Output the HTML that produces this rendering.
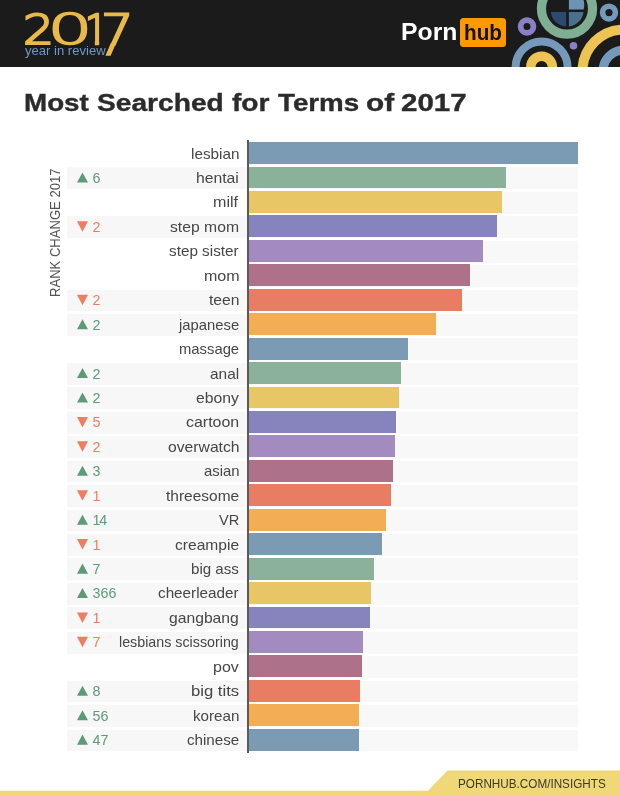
<!DOCTYPE html>
<html><head><meta charset="utf-8"><title>Most Searched for Terms of 2017</title>
<style>
html,body{margin:0;padding:0;background:#fff}
body{width:620px;height:796px;position:relative;overflow:hidden;font-family:"Liberation Sans",sans-serif;color:#3a3a3a}
.hdr{position:absolute;left:0;top:0;width:620px;height:67px;background:#1b1b1b;overflow:hidden}
.t{position:absolute;white-space:nowrap;transform-origin:0 0}
.y17{position:absolute;left:0;top:0}
.yir{left:24.61px;top:30.80px;font-size:13px;line-height:40px;color:#6f97c3;transform:scaleX(1.0053)}
.porn{left:401.14px;top:11.80px;font-size:23.2px;line-height:40px;font-weight:bold;color:#fff;transform:scaleX(1.0675)}
.hubbox{position:absolute;left:460.1px;top:18.1px;width:45.8px;height:28.6px;border-radius:3.5px;background:#ff9900}
.hub{left:463.75px;top:12.90px;font-size:22.2px;line-height:40px;font-weight:bold;color:#111;transform:scaleX(0.9316)}
.deco{position:absolute;left:500px;top:0;width:120px;height:67px}
h1{position:absolute;left:0;top:0;margin:0;-webkit-text-stroke:0.35px #2b2b2b;font-size:24px;line-height:40px;font-weight:bold;color:#2b2b2b}
h1 span{position:absolute;top:83.40px;white-space:nowrap;transform-origin:0 0}
.ylab{left:35.00px;top:296.57px;font-size:15px;line-height:40px;color:#555;transform:rotate(-90deg) scaleX(0.8706)}
.row{position:absolute;left:0;width:620px;height:21.9px}
.row.chg::before{content:"";position:absolute;left:67px;top:0.8px;width:182px;height:21.8px;background:#f7f7f7}
.track{position:absolute;left:249px;top:0.8px;width:329.2px;height:21.8px;background:#f8f8f8}
.bar{position:absolute;left:249.3px;top:0;height:21.9px}
.lbl{position:absolute;top:-8.60px;line-height:40px;font-size:15px;color:#464646;white-space:nowrap;transform-origin:0 0}
.num{position:absolute;left:92.6px;top:-8.60px;line-height:40px;font-size:14.3px;white-space:nowrap}
.num.up{color:#5d9a78}.num.dn{color:#ee7d62}
.tri{position:absolute;left:77px;width:0;height:0;border-left:5.5px solid transparent;border-right:5.5px solid transparent}
.tri.up{top:5.9px;border-bottom:9.4px solid #5d9a78}
.tri.dn{top:6.3px;border-top:10px solid #ee7d62}
.tris{position:absolute;left:0;top:0}.tris .u{fill:#5d9a78}.tris .d{fill:#ee7d62}
.axis{position:absolute;left:247px;top:140px;width:2.3px;height:612.5px;background:#5a5a5a}
.foot{position:absolute;left:0;top:770px;width:620px;height:26px}
.ft{left:458.33px;top:764.30px;font-size:13.5px;line-height:40px;color:#3a3a2e;transform:scaleX(0.8675)}
</style></head><body>
<div class="hdr">
<svg class="y17" width="140" height="67" viewBox="0 0 140 67"><defs><clipPath id="c1"><rect x="80" y="0" width="30" height="39.94"/><rect x="94.88" y="0" width="4.27" height="67"/></clipPath></defs><text font-family="'DejaVu Sans Light','DejaVu Sans',sans-serif" font-weight="200" font-size="42" fill="#e9b94b" stroke="#e9b94b" stroke-width="2.4" stroke-linejoin="miter" vector-effect="non-scaling-stroke" transform="translate(23.11,43.80) scale(1.1629,0.9881)">2</text><text font-family="'DejaVu Sans Light','DejaVu Sans',sans-serif" font-weight="200" font-size="42" fill="#e9b94b" stroke="#e9b94b" stroke-width="2.4" stroke-linejoin="miter" vector-effect="non-scaling-stroke" transform="translate(47.74,44.08) scale(1.6673,1.0004)">0</text><g clip-path="url(#c1)"><text font-family="'DejaVu Sans Light','DejaVu Sans',sans-serif" font-weight="200" font-size="42" fill="#e9b94b" stroke="#e9b94b" stroke-width="2.4" stroke-linejoin="miter" vector-effect="non-scaling-stroke" transform="translate(84.92,43.80) scale(0.8622,0.9896)">1</text></g><g transform="translate(100.88,45.00) skewX(-0.045) scale(1.2190,1.0288)"><text font-family="'DejaVu Sans Light','DejaVu Sans',sans-serif" font-weight="200" font-size="42" fill="#e9b94b" stroke="#e9b94b" stroke-width="2.4" stroke-linejoin="miter" vector-effect="non-scaling-stroke">7</text><polygon points="8.777,-0.5 10.951,-0.5 7.357,9.331 5.186,9.331" fill="#e9b94b" stroke="#e9b94b" stroke-width="2.4" vector-effect="non-scaling-stroke"/></g></svg>
<div class="t yir">year in review</div>
<div class="t porn">Porn</div><div class="hubbox"></div><div class="t hub">hub</div>
<svg class="deco" viewBox="500 0 120 67">
<circle cx="567" cy="8.6" r="25.55" fill="none" stroke="#7fae93" stroke-width="9.2"/>
<path d="M568.85 9.4 V-10 H575 A16.4 16.4 0 0 1 583.58 9.4 Z" fill="#6f93b3"/>
<path d="M568.85 11.9 H583.5 A16.4 16.4 0 0 1 568.85 26.52 Z" fill="#4b6f8f"/>
<path d="M566.1 11.9 H550.9 A16.4 16.4 0 0 0 566.1 26.56 Z" fill="#2c4a70"/>
<circle cx="527" cy="26.5" r="6.4" fill="none" stroke="#8a80c6" stroke-width="5.8"/>
<circle cx="609" cy="12.6" r="6.4" fill="none" stroke="#7499bb" stroke-width="5.6"/>
<circle cx="573.5" cy="45.7" r="3.8" fill="#8a80c6"/>
<circle cx="541.6" cy="67.4" r="26" fill="none" stroke="#7499bb" stroke-width="8"/>
<circle cx="541.6" cy="67" r="10.8" fill="none" stroke="#edc453" stroke-width="9.5"/>
<circle cx="624" cy="71" r="41.5" fill="none" stroke="#edc453" stroke-width="10"/>
<circle cx="624" cy="71" r="21" fill="none" stroke="#7499bb" stroke-width="9"/>
</svg>
</div>
<h1><span style="left:23.63px;transform:scaleX(1.1577)">Most</span> <span style="left:96.87px;transform:scaleX(1.1728)">Searched</span> <span style="left:232.01px;transform:scaleX(1.1718)">for</span> <span style="left:277.68px;transform:scaleX(1.1550)">Terms</span> <span style="left:366.24px;transform:scaleX(1.2419)">of</span> <span style="left:401.37px;transform:scaleX(1.2281)">2017</span></h1>
<div class="t ylab">RANK CHANGE 2017</div>
<div class="row" style="top:142.15px">
<span class="lbl" style="left:190.58px;transform:scaleX(1.0193)">lesbian</span><span class="track"></span><span class="bar" style="width:328.4px;background:#7b9ab4"></span></div>
<div class="row chg" style="top:166.59px">
<span class="num up">6</span>
<span class="lbl" style="left:196.25px;transform:scaleX(1.0487)">hentai</span><span class="track"></span><span class="bar" style="width:256.6px;background:#8bb19a"></span></div>
<div class="row" style="top:191.03px">
<span class="lbl" style="left:213.13px;transform:scaleX(1.0707)">milf</span><span class="track"></span><span class="bar" style="width:252.3px;background:#e8c565"></span></div>
<div class="row chg" style="top:215.47px">
<span class="num dn">2</span>
<span class="lbl" style="left:170.03px;transform:scaleX(1.0488)">step mom</span><span class="track"></span><span class="bar" style="width:247.8px;background:#8783bc"></span></div>
<div class="row" style="top:239.91px">
<span class="lbl" style="left:168.95px;transform:scaleX(1.0185)">step sister</span><span class="track"></span><span class="bar" style="width:233.7px;background:#a48bbf"></span></div>
<div class="row" style="top:264.35px">
<span class="lbl" style="left:203.73px;transform:scaleX(1.0702)">mom</span><span class="track"></span><span class="bar" style="width:220.4px;background:#ad718a"></span></div>
<div class="row chg" style="top:288.79px">
<span class="num dn">2</span>
<span class="lbl" style="left:208.76px;transform:scaleX(1.0476)">teen</span><span class="track"></span><span class="bar" style="width:212.4px;background:#e97d64"></span></div>
<div class="row chg" style="top:313.23px">
<span class="num up">2</span>
<span class="lbl" style="left:178.91px;transform:scaleX(0.9875)">japanese</span><span class="track"></span><span class="bar" style="width:187.1px;background:#f2ad55"></span></div>
<div class="row" style="top:337.67px">
<span class="lbl" style="left:178.91px;transform:scaleX(0.9875)">massage</span><span class="track"></span><span class="bar" style="width:158.8px;background:#7b9ab4"></span></div>
<div class="row chg" style="top:362.11px">
<span class="num up">2</span>
<span class="lbl" style="left:210.12px;transform:scaleX(1.0273)">anal</span><span class="track"></span><span class="bar" style="width:151.3px;background:#8bb19a"></span></div>
<div class="row chg" style="top:386.55px">
<span class="num up">2</span>
<span class="lbl" style="left:196.02px;transform:scaleX(1.0489)">ebony</span><span class="track"></span><span class="bar" style="width:149.7px;background:#e8c565"></span></div>
<div class="row chg" style="top:410.99px">
<span class="num dn">5</span>
<span class="lbl" style="left:186.01px;transform:scaleX(1.0630)">cartoon</span><span class="track"></span><span class="bar" style="width:147.0px;background:#8783bc"></span></div>
<div class="row chg" style="top:435.43px">
<span class="num dn">2</span>
<span class="lbl" style="left:167.73px;transform:scaleX(1.0466)">overwatch</span><span class="track"></span><span class="bar" style="width:145.7px;background:#a48bbf"></span></div>
<div class="row chg" style="top:459.87px">
<span class="num up">3</span>
<span class="lbl" style="left:203.55px;transform:scaleX(0.9899)">asian</span><span class="track"></span><span class="bar" style="width:143.5px;background:#ad718a"></span></div>
<div class="row chg" style="top:484.31px">
<span class="num dn">1</span>
<span class="lbl" style="left:165.87px;transform:scaleX(1.0326)">threesome</span><span class="track"></span><span class="bar" style="width:141.3px;background:#e97d64"></span></div>
<div class="row chg" style="top:508.75px">
<span class="num up" style="letter-spacing:-1.4px">14</span>
<span class="lbl" style="left:219.24px;transform:scaleX(0.9757)">VR</span><span class="track"></span><span class="bar" style="width:136.4px;background:#f2ad55"></span></div>
<div class="row chg" style="top:533.19px">
<span class="num dn">1</span>
<span class="lbl" style="left:175.33px;transform:scaleX(1.0388)">creampie</span><span class="track"></span><span class="bar" style="width:132.6px;background:#7b9ab4"></span></div>
<div class="row chg" style="top:557.63px">
<span class="num up">7</span>
<span class="lbl" style="left:191.19px;transform:scaleX(1.0063)">big ass</span><span class="track"></span><span class="bar" style="width:125.1px;background:#8bb19a"></span></div>
<div class="row chg" style="top:582.07px">
<span class="num up">366</span>
<span class="lbl" style="left:157.85px;transform:scaleX(1.0173)">cheerleader</span><span class="track"></span><span class="bar" style="width:121.6px;background:#e8c565"></span></div>
<div class="row chg" style="top:606.51px">
<span class="num dn">1</span>
<span class="lbl" style="left:169.22px;transform:scaleX(1.0452)">gangbang</span><span class="track"></span><span class="bar" style="width:121.1px;background:#8783bc"></span></div>
<div class="row chg" style="top:630.95px">
<span class="num dn">7</span>
<span class="lbl" style="left:119.25px;transform:scaleX(0.9516)">lesbians scissoring</span><span class="track"></span><span class="bar" style="width:113.8px;background:#a48bbf"></span></div>
<div class="row" style="top:655.39px">
<span class="lbl" style="left:213.13px;transform:scaleX(1.0659)">pov</span><span class="track"></span><span class="bar" style="width:113.0px;background:#ad718a"></span></div>
<div class="row chg" style="top:679.83px">
<span class="num up">8</span>
<span class="lbl" style="left:191.09px;transform:scaleX(1.1109)">big tits</span><span class="track"></span><span class="bar" style="width:110.5px;background:#e97d64"></span></div>
<div class="row chg" style="top:704.27px">
<span class="num up">56</span>
<span class="lbl" style="left:192.69px;transform:scaleX(1.0114)">korean</span><span class="track"></span><span class="bar" style="width:110.0px;background:#f2ad55"></span></div>
<div class="row chg" style="top:728.71px">
<span class="num up">47</span>
<span class="lbl" style="left:187.15px;transform:scaleX(1.0104)">chinese</span><span class="track"></span><span class="bar" style="width:109.8px;background:#7b9ab4"></span></div>
<svg class="tris" width="620" height="796" viewBox="0 0 620 796"><polygon class="u" points="77,182.59 88,182.59 82.5,172.49"/><polygon class="d" points="77,221.37 88,221.37 82.5,231.87"/><polygon class="d" points="77,294.69 88,294.69 82.5,305.19"/><polygon class="u" points="77,329.23 88,329.23 82.5,319.13"/><polygon class="u" points="77,378.11 88,378.11 82.5,368.01"/><polygon class="u" points="77,402.55 88,402.55 82.5,392.45"/><polygon class="d" points="77,416.89 88,416.89 82.5,427.39"/><polygon class="d" points="77,441.33 88,441.33 82.5,451.83"/><polygon class="u" points="77,475.87 88,475.87 82.5,465.77"/><polygon class="d" points="77,490.21 88,490.21 82.5,500.71"/><polygon class="u" points="77,524.75 88,524.75 82.5,514.65"/><polygon class="d" points="77,539.09 88,539.09 82.5,549.59"/><polygon class="u" points="77,573.63 88,573.63 82.5,563.53"/><polygon class="u" points="77,598.07 88,598.07 82.5,587.97"/><polygon class="d" points="77,612.41 88,612.41 82.5,622.91"/><polygon class="d" points="77,636.85 88,636.85 82.5,647.35"/><polygon class="u" points="77,695.83 88,695.83 82.5,685.73"/><polygon class="u" points="77,720.27 88,720.27 82.5,710.17"/><polygon class="u" points="77,744.71 88,744.71 82.5,734.61"/></svg>
<div class="axis"></div>
<svg class="foot" viewBox="0 0 620 26"><polygon points="447.5,0.5 620,0.5 620,26 0,26 0,20.8 428,20.8" fill="#f0d878"/></svg>
<div class="t ft">PORNHUB.COM/INSIGHTS</div>
</body></html>
